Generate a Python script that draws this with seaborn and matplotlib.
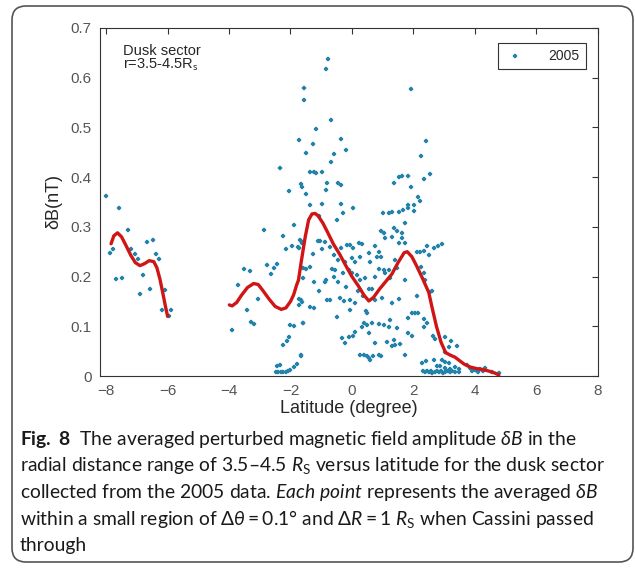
import numpy as np
import pandas as pd
import seaborn as sns
import matplotlib.pyplot as plt
from matplotlib.patches import FancyBboxPatch
from matplotlib.transforms import IdentityTransform

# scatter points (latitude in degree, dB in nT)
lat_left = [-8.0, -7.58, -7.29, -7.87, -7.79, -7.18, -7.06, -6.95, -7.69, -7.48, -6.68,
            -6.47, -6.38, -6.27, -6.79, -6.89, -6.57, -6.07, -6.17, -5.88, -5.97]
db_left = [0.363, 0.338, 0.293, 0.247, 0.255, 0.256, 0.246, 0.235, 0.195, 0.197, 0.269,
           0.274, 0.246, 0.235, 0.203, 0.165, 0.176, 0.172, 0.132, 0.132, 0.121]

lat_south = [-3.89, -3.72, -3.5, -3.33, -3.42, -3.27, -3.18, -3.05, -2.86, -2.75, -2.64,
             -2.53, -2.45, -2.35, -2.24, -2.06, -2.15, -1.95, -1.87, -1.73, -1.73, -1.62,
             -1.62, -1.56, -1.56, -1.58, -1.73, -1.73, -1.62, -2.0, -1.88, -1.58, -2.06,
             -2.12, -2.24, -2.45, -2.35, -1.88, -1.78, -1.66, -2.48, -2.4, -2.32, -2.24,
             -2.16, -2.08, -2.02, -1.76, -1.68, -1.38, -1.03, -0.86, -0.45]
db_south = [0.093, 0.183, 0.215, 0.211, 0.133, 0.108, 0.104, 0.155, 0.293, 0.224, 0.205,
            0.218, 0.225, 0.419, 0.281, 0.373, 0.256, 0.262, 0.303, 0.475, 0.258, 0.38,
            0.267, 0.579, 0.556, 0.197, 0.155, 0.142, 0.148, 0.102, 0.101, 0.107, 0.079,
            0.07, 0.063, 0.021, 0.023, 0.018, 0.025, 0.041, 0.008, 0.008, 0.008, 0.008,
            0.009, 0.01, 0.013, 0.259, 0.274, 0.22, 0.272, 0.193, 0.19]

lat_eq = [-0.78, -0.85, -0.68, -1.17, -0.36, -1.26, -1.48, -0.58, -0.18, -0.67, -1.36,
          -1.25, -1.17, -0.97, -0.81, -0.85, -0.47, -0.36, -1.66, -1.48, -0.97, -1.36,
          -0.36, 0.04, -0.28, -0.49, -1.07, -1.66, -1.11, -0.87, -0.72, -0.97, -1.27,
          -0.6, -0.16, -0.06, 0.23, 0.33, -0.36, 0.05, 0.0, -0.22, -0.44, -0.65, -0.54,
          -1.58, -1.49, -0.87, -1.25, -1.07, -0.6, -0.29, -0.11, 0.0, 0.16, 0.27, 0.43,
          -0.81, -0.71, -0.38, -0.27, -0.06, 0.11, -1.36, -1.25, -1.66, -0.49, -0.06,
          -1.58, -0.33, -0.22, -0.08, 0.03, 0.11, 0.38, 0.49, 0.33, 0.25, 0.38, 0.49,
          -1.66, 0.2, 0.35, 0.45, -0.2, 0.1, 0.25]
db_eq = [0.638, 0.617, 0.514, 0.496, 0.477, 0.466, 0.449, 0.446, 0.455, 0.43, 0.411,
         0.411, 0.408, 0.41, 0.388, 0.374, 0.388, 0.384, 0.386, 0.366, 0.346, 0.343,
         0.346, 0.337, 0.327, 0.313, 0.321, 0.272, 0.272, 0.27, 0.26, 0.256, 0.245,
         0.243, 0.264, 0.264, 0.267, 0.266, 0.257, 0.257, 0.237, 0.23, 0.233, 0.215, 0.213,
         0.217, 0.215, 0.19, 0.19, 0.171, 0.199, 0.207, 0.213, 0.207, 0.203, 0.193, 0.197,
         0.153, 0.153, 0.156, 0.15, 0.153, 0.146, 0.139, 0.137, 0.153, 0.119, 0.133,
         0.106, 0.076, 0.066, 0.078, 0.08, 0.089, 0.106, 0.103, 0.099, 0.042, 0.042, 0.04,
         0.042, 0.17, 0.16, 0.13, 0.18, 0.23, 0.24]

lat_north = [1.92, 2.42, 2.25, 2.53, 2.33, 1.52, 1.63, 1.84, 1.36, 1.92, 2.14, 2.22,
             1.84, 2.01, 2.03, 1.84, 1.0, 1.19, 1.32, 1.52, 1.65, 1.74, 0.95, 1.04, 1.36,
             1.47, 1.63, 1.63, 1.3, 1.08, 1.52, 1.74, 2.12, 2.22, 2.33, 2.44, 2.52, 0.74,
             0.87, 0.54, 0.81, 0.95, 0.6, 0.87, 1.03, 1.19, 1.41, 1.47, 1.25, 1.08, 0.76,
             1.74, 2.25, 2.33, 2.39, 2.55, 2.12, 0.54, 0.65, 0.76, 0.98, 1.3, 1.52, 1.95,
             2.06, 2.15, 2.36, 1.84, 0.49, 0.65, 0.87, 1.03, 1.19, 1.25, 1.47, 1.84, 1.95,
             2.33, 2.44, 0.54, 0.76, 1.14, 1.36, 1.41, 1.57, 1.3, 1.74, 0.7, 0.87, 0.95,
             0.54, 0.6, 2.66, 2.8, 2.92]
db_north = [0.577, 0.473, 0.443, 0.406, 0.396, 0.401, 0.402, 0.402, 0.388, 0.38, 0.36,
            0.351, 0.344, 0.343, 0.331, 0.337, 0.327, 0.327, 0.329, 0.329, 0.334, 0.307,
            0.292, 0.288, 0.297, 0.292, 0.287, 0.277, 0.28, 0.277, 0.268, 0.267, 0.25,
            0.25, 0.252, 0.262, 0.243, 0.262, 0.25, 0.247, 0.239, 0.24, 0.23, 0.215, 0.213,
            0.213, 0.233, 0.218, 0.197, 0.207, 0.2, 0.193, 0.22, 0.207, 0.193, 0.168, 0.161,
            0.174, 0.176, 0.153, 0.156, 0.146, 0.154, 0.127, 0.127, 0.126, 0.114, 0.116,
            0.126, 0.106, 0.105, 0.103, 0.099, 0.113, 0.096, 0.087, 0.08, 0.099, 0.106,
            0.086, 0.066, 0.069, 0.072, 0.062, 0.064, 0.06, 0.042, 0.04, 0.042, 0.04,
            0.036, 0.032, 0.258, 0.262, 0.265]

lat_tail = [2.6, 2.64, 2.71, 3.04, 3.22, 3.15, 3.42, 3.04, 2.93, 2.66, 2.77, 2.88, 3.04,
            3.2, 3.36, 3.47, 3.04, 3.15, 3.75, 3.85, 4.02, 4.18, 4.34, 4.56, 4.78, 2.28,
            2.4, 2.3, 2.38, 2.45, 2.5, 2.57, 2.62, 2.7, 2.76, 2.82, 2.9, 2.96, 3.02, 3.1,
            3.18, 3.27, 3.35, 3.5, 3.9, 4.1, 4.25]
db_tail = [0.17, 0.08, 0.074, 0.079, 0.071, 0.058, 0.06, 0.049, 0.033, 0.033, 0.02, 0.02,
           0.017, 0.015, 0.019, 0.015, 0.029, 0.026, 0.022, 0.017, 0.013, 0.015, 0.017,
           0.009, 0.007, 0.027, 0.03, 0.01, 0.009, 0.011, 0.008, 0.01, 0.007, 0.009, 0.011,
           0.008, 0.01, 0.007, 0.009, 0.011, 0.008, 0.01, 0.009, 0.008, 0.01, 0.008, 0.011]

# averaged (red) curves
fit1_lat = [-7.84, -7.75, -7.63, -7.5, -7.35, -7.2, -7.05, -6.9, -6.75, -6.6, -6.45,
            -6.35, -6.25, -6.15, -6.07, -6.0]
fit1_db = [0.266, 0.282, 0.288, 0.280, 0.262, 0.243, 0.228, 0.222, 0.226, 0.232, 0.230,
           0.218, 0.195, 0.165, 0.14, 0.12]
fit2_lat = [-3.99, -3.9, -3.75, -3.6, -3.4, -3.2, -3.05, -2.9, -2.7, -2.5, -2.3, -2.15,
            -2.0, -1.9, -1.8, -1.74, -1.65, -1.52, -1.41, -1.3, -1.2, -1.1, -0.95, -0.8,
            -0.6, -0.4, -0.2, 0.0, 0.2, 0.4, 0.55, 0.7, 0.9, 1.1, 1.3, 1.5, 1.7, 1.8, 1.95,
            2.1, 2.3, 2.5, 2.6, 2.75, 2.9, 3.05, 3.2, 3.35, 3.5, 3.65, 3.85, 4.05, 4.25,
            4.45, 4.65, 4.78]
fit2_db = [0.143, 0.141, 0.148, 0.162, 0.178, 0.186, 0.184, 0.172, 0.155, 0.14, 0.134,
           0.137, 0.15, 0.163, 0.183, 0.193, 0.23, 0.28, 0.314, 0.326, 0.327, 0.322, 0.308,
           0.29, 0.265, 0.245, 0.222, 0.2, 0.182, 0.162, 0.151, 0.158, 0.175, 0.19, 0.205,
           0.228, 0.248, 0.25, 0.24, 0.222, 0.196, 0.168, 0.14, 0.1, 0.068, 0.047, 0.042,
           0.038, 0.031, 0.024, 0.018, 0.015, 0.013, 0.01, 0.006, 0.002]

xticks = [-8, -6, -4, -2, 0, 2, 4, 6, 8]
yticks = [0, 0.1, 0.2, 0.3, 0.4, 0.5, 0.6, 0.7]
ytick_labels = ['0', '0.1', '0.2', '0.3', '0.4', '0.5', '0.6', '0.7']

caption = [
    r'$\mathbf{Fig.\ 8}$  The averaged perturbed magnetic field amplitude $\delta B$ in the',
    r'radial distance range of 3.5–4.5 $R_{\mathrm{S}}$ versus latitude for the dusk sector',
    r'collected from the 2005 data. $\mathit{Each\ point}$ represents the averaged $\delta B$',
    r'within a small region of $\Delta\theta = 0.1$° and $\Delta R = 1\ R_{\mathrm{S}}$ when Cassini passed',
    'through',
]

sns.set_style('white')
plt.rcParams['font.family'] = ['Liberation Sans', 'DejaVu Sans']
plt.rcParams['mathtext.fontset'] = 'custom'
plt.rcParams['mathtext.rm'] = 'Lato'
plt.rcParams['mathtext.it'] = 'Lato:italic'
plt.rcParams['mathtext.bf'] = 'Lato:bold'

pts = pd.DataFrame({
    'lat': lat_left + lat_south + lat_eq + lat_north + lat_tail,
    'db': db_left + db_south + db_eq + db_north + db_tail,
})

fig = plt.figure(figsize=(6.35, 5.71), dpi=100)
ax = fig.add_axes([0.1575, 0.3415, 0.7838, 0.6095])

sns.scatterplot(data=pts, x='lat', y='db', ax=ax, marker='P', s=11, color='#2483ab',
                edgecolor='#2483ab', linewidth=0.2, label='2005', zorder=2)
sns.lineplot(x=fit1_lat, y=fit1_db, ax=ax, color='#d01515', linewidth=2.4, sort=False,
             estimator=None, zorder=3)
sns.lineplot(x=fit2_lat, y=fit2_db, ax=ax, color='#d01515', linewidth=2.4, sort=False,
             estimator=None, zorder=3)

ax.set_xlim(-8.2, 8)
ax.set_ylim(0, 0.7)
ax.set_xticks(xticks)
ax.set_yticks(yticks)
ax.set_yticklabels(ytick_labels)
ax.tick_params(direction='in', top=True, right=True, length=4, width=0.8, color='#333333',
               labelsize=11, labelcolor='#555555', pad=6)
ax.tick_params(axis='x', labeltop=False)
ax.tick_params(axis='y', labelright=False)
for sp in ax.spines.values():
    sp.set_color('#333333')
    sp.set_linewidth(0.8)

ax.set_xlabel('Latitude (degree)', fontsize=13, labelpad=1)
ax.set_ylabel('δB(nT)', fontsize=13, labelpad=6)

ax.text(0.046, 0.955, 'Dusk sector\nr=3.5-4.5R$_{\\mathrm{s}}$', transform=ax.transAxes,
        ha='left', va='top', fontsize=10.5, linespacing=0.95)

leg = ax.legend(loc='upper right', bbox_to_anchor=(0.99, 0.978), fancybox=False,
                framealpha=1, edgecolor='#333333', fontsize=10, handletextpad=1.6,
                handlelength=1.6, borderpad=0.45, markerscale=1.0)
leg.get_frame().set_linewidth(0.8)

# caption under the plot
for i, line in enumerate(caption):
    fig.text(20 / 635, 1 - (439 + i * 26.7) / 571, line, fontsize=13.9, family='Lato',
             ha='left', va='center', color='#1a1a1a')

# rounded frame round the whole figure
frame = FancyBboxPatch((12, 9), 621, 556, boxstyle='round,pad=0,rounding_size=14',
                       transform=IdentityTransform(), fill=False, edgecolor='#555555',
                       linewidth=1.2)
fig.patches.append(frame)

fig.savefig('out.png', dpi=100)
